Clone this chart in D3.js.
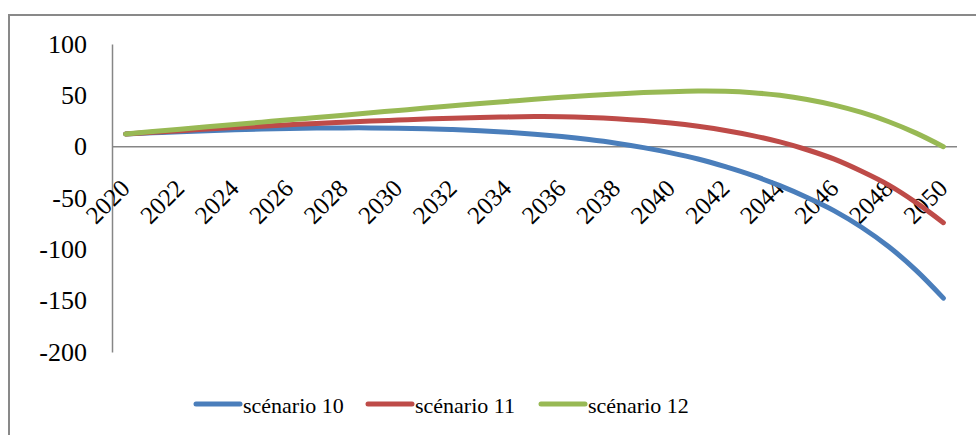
<!DOCTYPE html>
<html>
<head>
<meta charset="utf-8">
<script src="https://cdn.jsdelivr.net/npm/d3@7"></script>
<style>
  html, body { margin: 0; padding: 0; background: #fff; }
  svg { display: block; }
  svg text { font-family: "Liberation Serif", "Times New Roman", Tinos, Times, serif; fill: #000; }
</style>
</head>
<body>
<svg id="chart" width="976" height="435"></svg>
<script>
const years = d3.range(2020, 2051);
const tickYears = d3.range(2020, 2051, 2);
const yTicks = [-200, -150, -100, -50, 0, 50, 100];
const seriesNames = ["scénario 10", "scénario 11", "scénario 12"];
const seriesColors = ["#4A7EBB", "#BE4B48", "#98B954"];

const scenario10 = [12.4, 13.5, 14.6, 15.6, 16.4, 17.1, 17.7, 18.1, 18.3, 18.3,
  18.0, 17.5, 16.7, 15.6, 14.1, 12.2, 9.8, 6.9, 3.4, -0.9,
  -6.0, -12.0, -19.5, -28.0, -38.0, -49.5, -62.5, -78.5, -97.5, -120.5, -147.5];
const scenario11 = [12.4, 14.0, 15.6, 17.1, 18.6, 20.0, 21.3, 22.6, 23.8, 24.9,
  25.9, 26.9, 27.7, 28.4, 29.0, 29.3, 29.2, 28.5, 27.3, 25.5,
  23.0, 19.8, 15.8, 10.8, 4.6, -3.0, -12.2, -24.0, -37.5, -54.5, -74.0];
const scenario12 = [12.4, 14.7, 17.0, 19.3, 21.6, 23.9, 26.2, 28.4, 30.7, 33.0,
  35.3, 37.6, 39.8, 42.0, 44.1, 46.2, 48.1, 49.9, 51.4, 52.7,
  53.6, 54.1, 53.9, 52.6, 50.0, 46.0, 40.5, 33.3, 24.3, 13.2, 0.0];
const allSeries = [scenario10, scenario11, scenario12];

const svg = d3.select("#chart");
const axisColor = "#868686";
const serif = "'Liberation Serif', 'Times New Roman', Tinos, Times, serif";

// outer chart border
svg.append("rect")
  .attr("x", 9).attr("y", 15)
  .attr("width", 990).attr("height", 450)
  .attr("fill", "none").attr("stroke", "#898989").attr("stroke-width", 2);

const plotLeft = 112, plotRight = 957, plotTop = 44, plotBottom = 352;

const x = d3.scalePoint().domain(years).range([plotLeft, plotRight]).padding(0.5);
const y = d3.scaleLinear().domain([-200, 100]).range([plotBottom, plotTop]);

// y axis
const yAxis = d3.axisLeft(y).tickValues(yTicks).tickSize(0).tickPadding(25)
  .tickFormat(d => d < 0 ? "-" + Math.abs(d) : String(d));
const gy = svg.append("g").attr("transform", `translate(${plotLeft},0)`).call(yAxis)
  .attr("font-family", serif);
gy.select(".domain").attr("stroke", axisColor).attr("stroke-width", 1.5);
gy.selectAll("text").attr("font-size", 26).attr("fill", "#000");

// x axis line at zero, labels rotated
const xAxis = d3.axisBottom(x).tickValues(tickYears).tickSize(0).tickFormat(d => String(d));
const gx = svg.append("g").attr("transform", `translate(0,${y(0)})`).call(xAxis)
  .attr("font-family", serif);
gx.select(".domain").attr("stroke", axisColor).attr("stroke-width", 1.5)
  .attr("d", `M${plotLeft},0H${plotRight}`);
gx.selectAll(".tick text")
  .attr("font-size", 25)
  .attr("fill", "#000")
  .attr("text-anchor", "end")
  .attr("x", 0).attr("y", 0).attr("dy", "0.35em")
  .attr("transform", "translate(-1,37) rotate(-45)");

// lines
const line = d3.line()
  .x((d, i) => x(years[i]))
  .y(d => y(d))
  .curve(d3.curveCatmullRom.alpha(0.5));

allSeries.forEach((s, k) => {
  svg.append("path")
    .datum(s)
    .attr("d", line)
    .attr("fill", "none")
    .attr("stroke", seriesColors[k])
    .attr("stroke-width", 5)
    .attr("stroke-linecap", "round")
    .attr("stroke-linejoin", "round");
});

// legend
const legendX = [196, 368, 541];
const legendY = 404;
seriesNames.forEach((name, k) => {
  const g = svg.append("g").attr("transform", `translate(${legendX[k]},${legendY})`);
  g.append("line").attr("x1", 0).attr("x2", 44).attr("y1", 0).attr("y2", 0)
    .attr("stroke", seriesColors[k]).attr("stroke-width", 5).attr("stroke-linecap", "round");
  g.append("text").attr("x", 47).attr("y", 0).attr("dy", "0.4em")
    .attr("font-family", serif)
    .attr("font-size", 22).text(name);
});
</script>
</body>
</html>
